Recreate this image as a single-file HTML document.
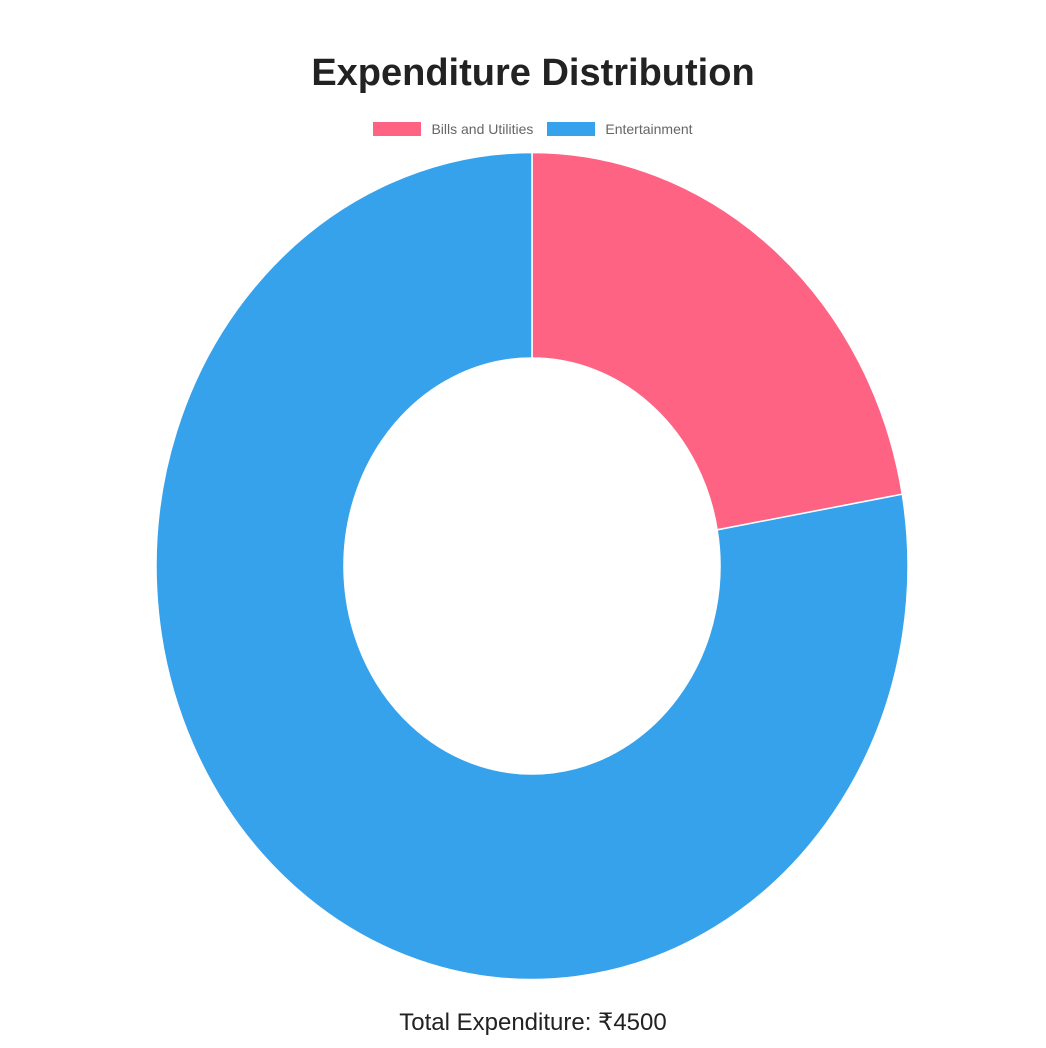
<!DOCTYPE html>
<html>
<head>
<meta charset="utf-8">
<style>
  html,body{margin:0;padding:0;background:#fff;}
  body{width:1046px;height:1048px;position:relative;overflow:hidden;font-family:"Liberation Sans",sans-serif;}
  #title{position:absolute;left:0;width:1066px;top:52px;text-align:center;font-size:38px;font-weight:bold;color:#222;}
  #legend{position:absolute;top:120px;left:0;width:1066px;text-align:center;font-size:14px;color:#666;}
  .li{display:inline-block;margin:0 7px;vertical-align:middle;}
  .sw{display:inline-block;width:48px;height:14px;vertical-align:-2px;margin-right:10px;}
  #footer{position:absolute;left:0;width:1066px;top:1008px;text-align:center;font-size:24px;color:#222;}
  svg{position:absolute;left:0;top:0;}
</style>
</head>
<body>
<div id="title">Expenditure Distribution</div>
<div id="legend"></div>
<svg id="chart" width="1046" height="1048"></svg>
<div id="footer">Total Expenditure: ₹4500</div>
<script>
const categories = ["Bills and Utilities", "Entertainment"];
const values = [1000, 3500];
const colors = ["#ff6384", "#36a2eb"];

const svg = document.getElementById('chart');
const NS = "http://www.w3.org/2000/svg";
const cx = 532, cy = 566, rx = 376, ry = 413.5, irx = 188, iry = 208;
const total = values.reduce((a,b)=>a+b,0);
function pt(t, a, b){ return [cx + a*Math.sin(t), cy - b*Math.cos(t)]; }
let start = 0;
values.forEach((v,i)=>{
  const end = start + v/total*2*Math.PI;
  const large = (end-start) > Math.PI ? 1 : 0;
  const p1 = pt(start,rx,ry), p2 = pt(end,rx,ry), p3 = pt(end,irx,iry), p4 = pt(start,irx,iry);
  const d = `M${p1[0]},${p1[1]} A${rx},${ry} 0 ${large} 1 ${p2[0]},${p2[1]} L${p3[0]},${p3[1]} A${irx},${iry} 0 ${large} 0 ${p4[0]},${p4[1]} Z`;
  const path = document.createElementNS(NS,'path');
  path.setAttribute('d', d);
  path.setAttribute('fill', colors[i]);
  path.setAttribute('stroke', '#fff');
  path.setAttribute('stroke-width', '1.5');
  
  
  svg.appendChild(path);
  start = end;
});
const legend = document.getElementById('legend');
categories.forEach((c,i)=>{
  const s = document.createElement('span');
  s.className = 'li';
  
  
  s.innerHTML = `<span class="sw" style="background:${colors[i]}"></span>${c}`;
  legend.appendChild(s);
});
</script>
</body>
</html>
